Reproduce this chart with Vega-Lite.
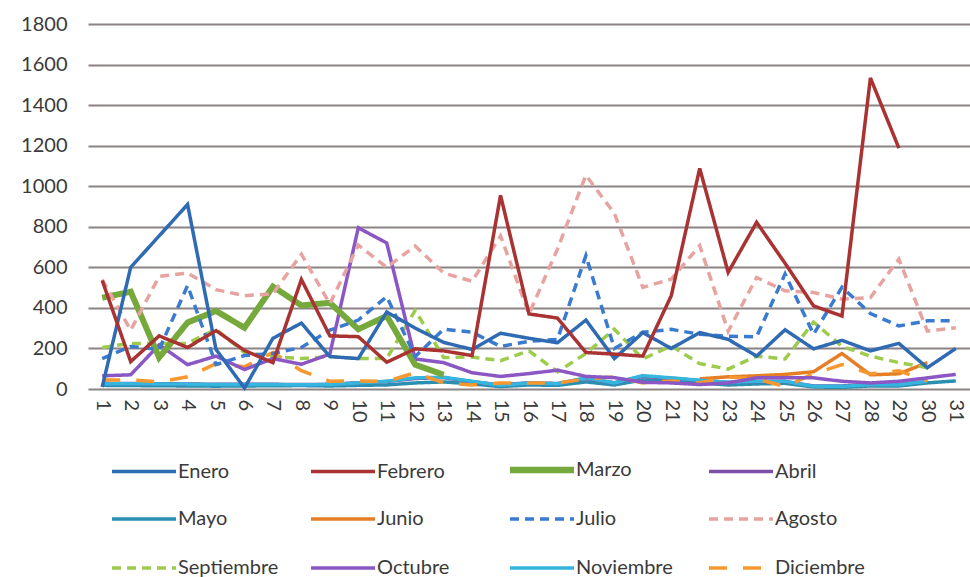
{
  "$schema": "https://vega.github.io/schema/vega-lite/v6.json",
  "width": 882,
  "height": 365,
  "autosize": {"type": "none"},
  "padding": {"left": 88, "top": 24, "right": 0, "bottom": 188},
  "background": "white",
  "config": {"font": "Lato", "view": {"stroke": null}},
  "datasets": {
    "d": [
      {"mes":"Mayo","dia":1,"valor":18},{"mes":"Mayo","dia":2,"valor":17},{"mes":"Mayo","dia":3,"valor":16},{"mes":"Mayo","dia":4,"valor":15},{"mes":"Mayo","dia":5,"valor":14},{"mes":"Mayo","dia":6,"valor":15},{"mes":"Mayo","dia":7,"valor":16},{"mes":"Mayo","dia":8,"valor":17},{"mes":"Mayo","dia":9,"valor":15},{"mes":"Mayo","dia":10,"valor":18},{"mes":"Mayo","dia":11,"valor":20},{"mes":"Mayo","dia":12,"valor":30},{"mes":"Mayo","dia":13,"valor":35},{"mes":"Mayo","dia":14,"valor":25},{"mes":"Mayo","dia":15,"valor":12},{"mes":"Mayo","dia":16,"valor":20},{"mes":"Mayo","dia":17,"valor":18},{"mes":"Mayo","dia":18,"valor":35},{"mes":"Mayo","dia":19,"valor":20},{"mes":"Mayo","dia":20,"valor":45},{"mes":"Mayo","dia":21,"valor":40},{"mes":"Mayo","dia":22,"valor":30},{"mes":"Mayo","dia":23,"valor":20},{"mes":"Mayo","dia":24,"valor":25},{"mes":"Mayo","dia":25,"valor":28},{"mes":"Mayo","dia":26,"valor":10},{"mes":"Mayo","dia":27,"valor":8},{"mes":"Mayo","dia":28,"valor":15},{"mes":"Mayo","dia":29,"valor":15},{"mes":"Mayo","dia":30,"valor":30},{"mes":"Mayo","dia":31,"valor":40},
      {"mes":"Abril","dia":1,"valor":28},{"mes":"Abril","dia":2,"valor":27},{"mes":"Abril","dia":3,"valor":26},{"mes":"Abril","dia":4,"valor":25},{"mes":"Abril","dia":5,"valor":23},{"mes":"Abril","dia":6,"valor":23},{"mes":"Abril","dia":7,"valor":23},{"mes":"Abril","dia":8,"valor":22},{"mes":"Abril","dia":9,"valor":23},{"mes":"Abril","dia":10,"valor":31},{"mes":"Abril","dia":11,"valor":37},{"mes":"Abril","dia":12,"valor":52},{"mes":"Abril","dia":13,"valor":56},{"mes":"Abril","dia":14,"valor":36},{"mes":"Abril","dia":15,"valor":20},{"mes":"Abril","dia":16,"valor":31},{"mes":"Abril","dia":17,"valor":27},{"mes":"Abril","dia":18,"valor":52},{"mes":"Abril","dia":19,"valor":31},{"mes":"Abril","dia":20,"valor":62},{"mes":"Abril","dia":21,"valor":53},{"mes":"Abril","dia":22,"valor":42},{"mes":"Abril","dia":23,"valor":33},{"mes":"Abril","dia":24,"valor":37},{"mes":"Abril","dia":25,"valor":37},{"mes":"Abril","dia":26,"valor":15},{"mes":"Abril","dia":27,"valor":15},{"mes":"Abril","dia":28,"valor":22},{"mes":"Abril","dia":29,"valor":22},{"mes":"Abril","dia":30,"valor":37},
      {"mes":"Junio","dia":22,"valor":50},{"mes":"Junio","dia":23,"valor":60},{"mes":"Junio","dia":24,"valor":65},{"mes":"Junio","dia":25,"valor":72},{"mes":"Junio","dia":26,"valor":85},{"mes":"Junio","dia":27,"valor":175},{"mes":"Junio","dia":28,"valor":70},{"mes":"Junio","dia":29,"valor":75},{"mes":"Junio","dia":30,"valor":130},
      {"mes":"Noviembre","dia":1,"valor":26},{"mes":"Noviembre","dia":2,"valor":26},{"mes":"Noviembre","dia":3,"valor":25},{"mes":"Noviembre","dia":4,"valor":24},{"mes":"Noviembre","dia":5,"valor":22},{"mes":"Noviembre","dia":6,"valor":22},{"mes":"Noviembre","dia":7,"valor":22},{"mes":"Noviembre","dia":8,"valor":21},{"mes":"Noviembre","dia":9,"valor":22},{"mes":"Noviembre","dia":10,"valor":30},{"mes":"Noviembre","dia":11,"valor":38},{"mes":"Noviembre","dia":12,"valor":55},{"mes":"Noviembre","dia":13,"valor":58},{"mes":"Noviembre","dia":14,"valor":38},{"mes":"Noviembre","dia":15,"valor":18},{"mes":"Noviembre","dia":16,"valor":30},{"mes":"Noviembre","dia":17,"valor":26},{"mes":"Noviembre","dia":18,"valor":55},{"mes":"Noviembre","dia":19,"valor":30},{"mes":"Noviembre","dia":20,"valor":66},{"mes":"Noviembre","dia":21,"valor":55},{"mes":"Noviembre","dia":22,"valor":43},{"mes":"Noviembre","dia":23,"valor":33},{"mes":"Noviembre","dia":24,"valor":38},{"mes":"Noviembre","dia":25,"valor":38},{"mes":"Noviembre","dia":26,"valor":13},{"mes":"Noviembre","dia":27,"valor":13},{"mes":"Noviembre","dia":28,"valor":21},{"mes":"Noviembre","dia":29,"valor":21},{"mes":"Noviembre","dia":30,"valor":38},
      {"mes":"Diciembre","dia":1,"valor":45},{"mes":"Diciembre","dia":2,"valor":45},{"mes":"Diciembre","dia":3,"valor":35},{"mes":"Diciembre","dia":4,"valor":60},{"mes":"Diciembre","dia":5,"valor":125},{"mes":"Diciembre","dia":6,"valor":110},{"mes":"Diciembre","dia":7,"valor":180},{"mes":"Diciembre","dia":8,"valor":90},{"mes":"Diciembre","dia":9,"valor":38},{"mes":"Diciembre","dia":10,"valor":40},{"mes":"Diciembre","dia":11,"valor":38},{"mes":"Diciembre","dia":12,"valor":80},{"mes":"Diciembre","dia":13,"valor":30},{"mes":"Diciembre","dia":14,"valor":20},{"mes":"Diciembre","dia":15,"valor":30},{"mes":"Diciembre","dia":16,"valor":30},{"mes":"Diciembre","dia":17,"valor":30},{"mes":"Diciembre","dia":18,"valor":50},{"mes":"Diciembre","dia":19,"valor":60},{"mes":"Diciembre","dia":20,"valor":30},{"mes":"Diciembre","dia":21,"valor":40},{"mes":"Diciembre","dia":22,"valor":30},{"mes":"Diciembre","dia":23,"valor":60},{"mes":"Diciembre","dia":24,"valor":50},{"mes":"Diciembre","dia":25,"valor":12},{"mes":"Diciembre","dia":26,"valor":75},{"mes":"Diciembre","dia":27,"valor":120},{"mes":"Diciembre","dia":28,"valor":75},{"mes":"Diciembre","dia":29,"valor":90},{"mes":"Diciembre","dia":30,"valor":40},
      {"mes":"Septiembre","dia":1,"valor":205},{"mes":"Septiembre","dia":2,"valor":225},{"mes":"Septiembre","dia":3,"valor":225},{"mes":"Septiembre","dia":4,"valor":225},{"mes":"Septiembre","dia":5,"valor":295},{"mes":"Septiembre","dia":6,"valor":180},{"mes":"Septiembre","dia":7,"valor":160},{"mes":"Septiembre","dia":8,"valor":150},{"mes":"Septiembre","dia":9,"valor":160},{"mes":"Septiembre","dia":10,"valor":150},{"mes":"Septiembre","dia":11,"valor":150},{"mes":"Septiembre","dia":12,"valor":388},{"mes":"Septiembre","dia":13,"valor":155},{"mes":"Septiembre","dia":14,"valor":158},{"mes":"Septiembre","dia":15,"valor":140},{"mes":"Septiembre","dia":16,"valor":188},{"mes":"Septiembre","dia":17,"valor":85},{"mes":"Septiembre","dia":18,"valor":175},{"mes":"Septiembre","dia":19,"valor":295},{"mes":"Septiembre","dia":20,"valor":148},{"mes":"Septiembre","dia":21,"valor":212},{"mes":"Septiembre","dia":22,"valor":125},{"mes":"Septiembre","dia":23,"valor":98},{"mes":"Septiembre","dia":24,"valor":162},{"mes":"Septiembre","dia":25,"valor":148},{"mes":"Septiembre","dia":26,"valor":330},{"mes":"Septiembre","dia":27,"valor":210},{"mes":"Septiembre","dia":28,"valor":162},{"mes":"Septiembre","dia":29,"valor":130},{"mes":"Septiembre","dia":30,"valor":105},
      {"mes":"Octubre","dia":1,"valor":65},{"mes":"Octubre","dia":2,"valor":70},{"mes":"Octubre","dia":3,"valor":218},{"mes":"Octubre","dia":4,"valor":120},{"mes":"Octubre","dia":5,"valor":162},{"mes":"Octubre","dia":6,"valor":96},{"mes":"Octubre","dia":7,"valor":150},{"mes":"Octubre","dia":8,"valor":122},{"mes":"Octubre","dia":9,"valor":172},{"mes":"Octubre","dia":10,"valor":795},{"mes":"Octubre","dia":11,"valor":720},{"mes":"Octubre","dia":12,"valor":148},{"mes":"Octubre","dia":13,"valor":130},{"mes":"Octubre","dia":14,"valor":80},{"mes":"Octubre","dia":15,"valor":62},{"mes":"Octubre","dia":16,"valor":76},{"mes":"Octubre","dia":17,"valor":93},{"mes":"Octubre","dia":18,"valor":62},{"mes":"Octubre","dia":19,"valor":56},{"mes":"Octubre","dia":20,"valor":33},{"mes":"Octubre","dia":21,"valor":30},{"mes":"Octubre","dia":22,"valor":22},{"mes":"Octubre","dia":23,"valor":30},{"mes":"Octubre","dia":24,"valor":55},{"mes":"Octubre","dia":25,"valor":55},{"mes":"Octubre","dia":26,"valor":55},{"mes":"Octubre","dia":27,"valor":38},{"mes":"Octubre","dia":28,"valor":30},{"mes":"Octubre","dia":29,"valor":38},{"mes":"Octubre","dia":30,"valor":55},{"mes":"Octubre","dia":31,"valor":72},
      {"mes":"Marzo","dia":1,"valor":450},{"mes":"Marzo","dia":2,"valor":480},{"mes":"Marzo","dia":3,"valor":155},{"mes":"Marzo","dia":4,"valor":328},{"mes":"Marzo","dia":5,"valor":385},{"mes":"Marzo","dia":6,"valor":302},{"mes":"Marzo","dia":7,"valor":505},{"mes":"Marzo","dia":8,"valor":412},{"mes":"Marzo","dia":9,"valor":425},{"mes":"Marzo","dia":10,"valor":295},{"mes":"Marzo","dia":11,"valor":360},{"mes":"Marzo","dia":12,"valor":120},{"mes":"Marzo","dia":13,"valor":70},
      {"mes":"Agosto","dia":1,"valor":540},{"mes":"Agosto","dia":2,"valor":290},{"mes":"Agosto","dia":3,"valor":555},{"mes":"Agosto","dia":4,"valor":572},{"mes":"Agosto","dia":5,"valor":490},{"mes":"Agosto","dia":6,"valor":460},{"mes":"Agosto","dia":7,"valor":470},{"mes":"Agosto","dia":8,"valor":665},{"mes":"Agosto","dia":9,"valor":420},{"mes":"Agosto","dia":10,"valor":710},{"mes":"Agosto","dia":11,"valor":600},{"mes":"Agosto","dia":12,"valor":705},{"mes":"Agosto","dia":13,"valor":572},{"mes":"Agosto","dia":14,"valor":531},{"mes":"Agosto","dia":15,"valor":755},{"mes":"Agosto","dia":16,"valor":370},{"mes":"Agosto","dia":17,"valor":690},{"mes":"Agosto","dia":18,"valor":1054},{"mes":"Agosto","dia":19,"valor":866},{"mes":"Agosto","dia":20,"valor":501},{"mes":"Agosto","dia":21,"valor":542},{"mes":"Agosto","dia":22,"valor":707},{"mes":"Agosto","dia":23,"valor":285},{"mes":"Agosto","dia":24,"valor":550},{"mes":"Agosto","dia":25,"valor":484},{"mes":"Agosto","dia":26,"valor":476},{"mes":"Agosto","dia":27,"valor":443},{"mes":"Agosto","dia":28,"valor":451},{"mes":"Agosto","dia":29,"valor":641},{"mes":"Agosto","dia":30,"valor":286},{"mes":"Agosto","dia":31,"valor":302},
      {"mes":"Julio","dia":1,"valor":150},{"mes":"Julio","dia":2,"valor":210},{"mes":"Julio","dia":3,"valor":195},{"mes":"Julio","dia":4,"valor":510},{"mes":"Julio","dia":5,"valor":120},{"mes":"Julio","dia":6,"valor":165},{"mes":"Julio","dia":7,"valor":175},{"mes":"Julio","dia":8,"valor":205},{"mes":"Julio","dia":9,"valor":290},{"mes":"Julio","dia":10,"valor":340},{"mes":"Julio","dia":11,"valor":455},{"mes":"Julio","dia":12,"valor":160},{"mes":"Julio","dia":13,"valor":295},{"mes":"Julio","dia":14,"valor":280},{"mes":"Julio","dia":15,"valor":210},{"mes":"Julio","dia":16,"valor":235},{"mes":"Julio","dia":17,"valor":245},{"mes":"Julio","dia":18,"valor":658},{"mes":"Julio","dia":19,"valor":200},{"mes":"Julio","dia":20,"valor":280},{"mes":"Julio","dia":21,"valor":294},{"mes":"Julio","dia":22,"valor":270},{"mes":"Julio","dia":23,"valor":260},{"mes":"Julio","dia":24,"valor":258},{"mes":"Julio","dia":25,"valor":567},{"mes":"Julio","dia":26,"valor":270},{"mes":"Julio","dia":27,"valor":502},{"mes":"Julio","dia":28,"valor":372},{"mes":"Julio","dia":29,"valor":311},{"mes":"Julio","dia":30,"valor":336},{"mes":"Julio","dia":31,"valor":336},
      {"mes":"Enero","dia":1,"valor":10},{"mes":"Enero","dia":2,"valor":600},{"mes":"Enero","dia":3,"valor":755},{"mes":"Enero","dia":4,"valor":910},{"mes":"Enero","dia":5,"valor":195},{"mes":"Enero","dia":6,"valor":5},{"mes":"Enero","dia":7,"valor":250},{"mes":"Enero","dia":8,"valor":325},{"mes":"Enero","dia":9,"valor":160},{"mes":"Enero","dia":10,"valor":150},{"mes":"Enero","dia":11,"valor":380},{"mes":"Enero","dia":12,"valor":300},{"mes":"Enero","dia":13,"valor":230},{"mes":"Enero","dia":14,"valor":195},{"mes":"Enero","dia":15,"valor":275},{"mes":"Enero","dia":16,"valor":250},{"mes":"Enero","dia":17,"valor":228},{"mes":"Enero","dia":18,"valor":340},{"mes":"Enero","dia":19,"valor":150},{"mes":"Enero","dia":20,"valor":278},{"mes":"Enero","dia":21,"valor":200},{"mes":"Enero","dia":22,"valor":278},{"mes":"Enero","dia":23,"valor":245},{"mes":"Enero","dia":24,"valor":162},{"mes":"Enero","dia":25,"valor":292},{"mes":"Enero","dia":26,"valor":198},{"mes":"Enero","dia":27,"valor":240},{"mes":"Enero","dia":28,"valor":188},{"mes":"Enero","dia":29,"valor":225},{"mes":"Enero","dia":30,"valor":105},{"mes":"Enero","dia":31,"valor":200},
      {"mes":"Febrero","dia":1,"valor":535},{"mes":"Febrero","dia":2,"valor":135},{"mes":"Febrero","dia":3,"valor":262},{"mes":"Febrero","dia":4,"valor":205},{"mes":"Febrero","dia":5,"valor":288},{"mes":"Febrero","dia":6,"valor":190},{"mes":"Febrero","dia":7,"valor":130},{"mes":"Febrero","dia":8,"valor":540},{"mes":"Febrero","dia":9,"valor":262},{"mes":"Febrero","dia":10,"valor":258},{"mes":"Febrero","dia":11,"valor":132},{"mes":"Febrero","dia":12,"valor":198},{"mes":"Febrero","dia":13,"valor":188},{"mes":"Febrero","dia":14,"valor":165},{"mes":"Febrero","dia":15,"valor":955},{"mes":"Febrero","dia":16,"valor":370},{"mes":"Febrero","dia":17,"valor":350},{"mes":"Febrero","dia":18,"valor":180},{"mes":"Febrero","dia":19,"valor":172},{"mes":"Febrero","dia":20,"valor":162},{"mes":"Febrero","dia":21,"valor":460},{"mes":"Febrero","dia":22,"valor":1088},{"mes":"Febrero","dia":23,"valor":575},{"mes":"Febrero","dia":24,"valor":822},{"mes":"Febrero","dia":25,"valor":620},{"mes":"Febrero","dia":26,"valor":410},{"mes":"Febrero","dia":27,"valor":360},{"mes":"Febrero","dia":28,"valor":1534},{"mes":"Febrero","dia":29,"valor":1188}
    ]
  },
  "data": {"name": "d"},
  "mark": {"type": "line", "strokeJoin": "miter"},
  "encoding": {
    "x": {
      "field": "dia", "type": "ordinal",
      "scale": {"type": "point", "padding": 0.5},
      "axis": {"title": null, "labelAngle": 90, "labelAlign": "left", "labelBaseline": "middle", "labelFontSize": 20, "labelColor": "#3a3a3a", "ticks": false, "domain": false, "labelPadding": 10}
    },
    "y": {
      "field": "valor", "type": "quantitative",
      "scale": {"domain": [0, 1800], "nice": false},
      "axis": {"title": null, "values": [0,200,400,600,800,1000,1200,1400,1600,1800], "format": "d", "labelFontSize": 20, "labelColor": "#3a3a3a", "ticks": false, "domain": false, "labelPadding": 21, "gridColor": "#8c8484", "gridWidth": 1.8}
    },
    "color": {
      "field": "mes", "type": "nominal",
      "scale": {
        "domain": ["Enero","Febrero","Marzo","Abril","Mayo","Junio","Julio","Agosto","Septiembre","Octubre","Noviembre","Diciembre"],
        "range": ["#2F6BB3","#A93232","#76A93B","#7E4FA6","#2A8FB0","#E57E25","#3A7BCF","#E7A3A0","#9DCB4B","#8B57C4","#34B6DE","#F7982F"]
      },
      "legend": {
        "title": null, "orient": "none", "legendX": 46, "legendY": 436,
        "columns": 4, "direction": "horizontal", "gridAlign": "all",
        "symbolType": "M-3.2,0H3.2", "symbolSize": 400, "symbolStrokeWidth": 3.5,
        "labelOffset": 24, "labelFontSize": 20, "labelColor": "#3a3a3a",
        "columnPadding": 19, "rowPadding": 26, "labelLimit": 200,
        "encode": {"symbols": {"update": {"strokeWidth": {"signal": "datum.value === 'Marzo' ? 6.5 : 3.5"}}}}
      }
    },
    "strokeDash": {
      "field": "mes", "type": "nominal",
      "scale": {
        "domain": ["Enero","Febrero","Marzo","Abril","Mayo","Junio","Julio","Agosto","Septiembre","Octubre","Noviembre","Diciembre"],
        "range": [[1,0],[1,0],[1,0],[1,0],[1,0],[1,0],[9,6],[9,6],[9,6],[1,0],[1,0],[18,16]]
      }
    },
    "strokeWidth": {
      "condition": {"test": "datum.mes === 'Marzo'", "value": 6},
      "value": 3.5
    }
  }
}
